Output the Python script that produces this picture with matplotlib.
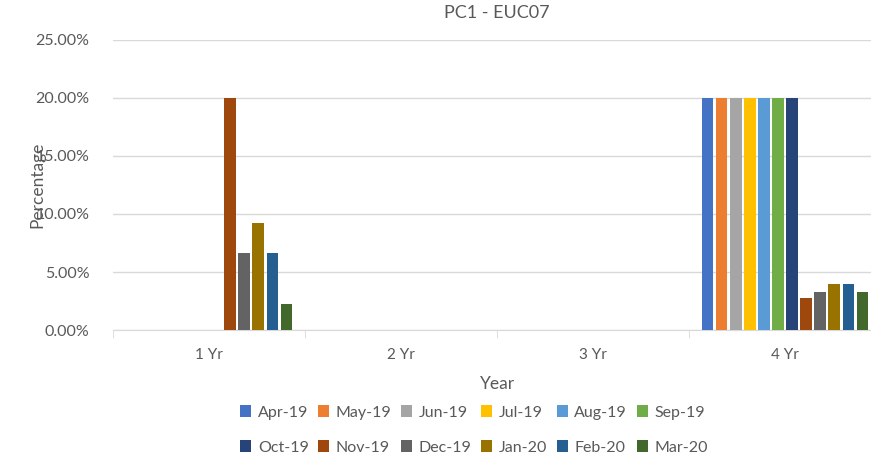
import numpy as np
import matplotlib.pyplot as plt
from matplotlib.ticker import PercentFormatter

plt.rcParams['font.family'] = ['Lato', 'DejaVu Sans']

categories = ['1 Yr', '2 Yr', '3 Yr', '4 Yr']
months = ['Apr-19', 'May-19', 'Jun-19', 'Jul-19', 'Aug-19', 'Sep-19',
          'Oct-19', 'Nov-19', 'Dec-19', 'Jan-20', 'Feb-20', 'Mar-20']
# percentage per month, one list per category (1 Yr, 2 Yr, 3 Yr, 4 Yr)
yr1 = [0, 0, 0, 0, 0, 0, 0, 20.0, 6.67, 9.2, 6.67, 2.2]
yr2 = [0] * 12
yr3 = [0] * 12
yr4 = [20.0, 20.0, 20.0, 20.0, 20.0, 20.0, 20.0, 2.78, 3.3, 3.95, 3.95, 3.3]
colors = ['#4472C4', '#ED7D31', '#A5A5A5', '#FFC000', '#5B9BD5', '#70AD47',
          '#264478', '#9E480E', '#636363', '#997300', '#255E91', '#43682B']

data = np.array([yr1, yr2, yr3, yr4])
txt = '#595959'

fig = plt.figure(figsize=(8.71, 4.65), dpi=100)
ax = fig.add_axes([113/871, 135/465, 768/871, 290/465])

pitch = 0.073
width = 0.058
x = np.arange(len(categories))
bars = []
for i, m in enumerate(months):
    off = (i - 5.5) * pitch
    bars.append(ax.bar(x + off, data[:, i], width, color=colors[i], label=m, zorder=3))

ax.set_xlim(-0.5, 3.5)
ax.set_ylim(0, 25)
ax.yaxis.set_major_formatter(PercentFormatter(decimals=2))
ax.set_yticks(np.arange(0, 26, 5))
ax.grid(axis='y', color='#D9D9D9', linewidth=1, zorder=0)
for s in ['top', 'right', 'left']:
    ax.spines[s].set_visible(False)
ax.spines['bottom'].set_color('#D9D9D9')
ax.tick_params(axis='y', length=0, labelsize=11.5, labelcolor=txt, pad=17)
ax.set_xticks(x)
ax.set_xticklabels(categories)
ax.tick_params(axis='x', length=0, labelsize=11, labelcolor=txt, pad=13)
ax.set_xticks(np.arange(-0.5, 4, 1), minor=True)
ax.tick_params(axis='x', which='minor', length=6, color='#D9D9D9')

ax.set_title('PC1 - EUC07', fontsize=13, color=txt, pad=16)
ax.set_xlabel('Year', fontsize=12.5, color=txt, labelpad=10)
fig.text(37/871, 1 - 185/465, 'Percentage', rotation=90, fontsize=12.5,
         color=txt, ha='center', va='center')

# legend fills column by column, so interleave to get row-wise order
order = [i + 6 * r for i in range(6) for r in range(2)]
fig.legend([bars[k] for k in order], [months[k] for k in order],
           loc='center', bbox_to_anchor=(474/871, 1 - 430/465), ncol=6,
           frameon=False, fontsize=11.5, labelcolor=txt, handlelength=0.7,
           handleheight=0.7, handletextpad=0.4, columnspacing=0.6,
           labelspacing=1.3)

fig.savefig('out.png', dpi=100)
